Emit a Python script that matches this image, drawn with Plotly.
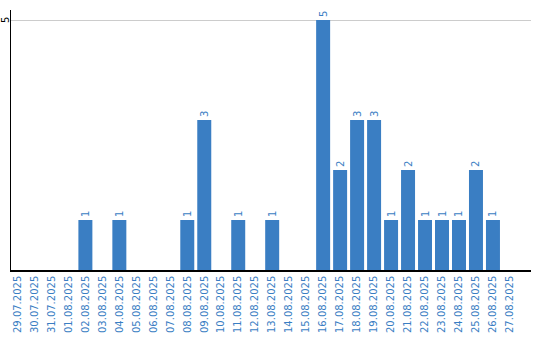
import plotly.graph_objects as go

dates = ["29.07.2025", "30.07.2025", "31.07.2025", "01.08.2025", "02.08.2025", "03.08.2025",
         "04.08.2025", "05.08.2025", "06.08.2025", "07.08.2025", "08.08.2025", "09.08.2025",
         "10.08.2025", "11.08.2025", "12.08.2025", "13.08.2025", "14.08.2025", "15.08.2025",
         "16.08.2025", "17.08.2025", "18.08.2025", "19.08.2025", "20.08.2025", "21.08.2025",
         "22.08.2025", "23.08.2025", "24.08.2025", "25.08.2025", "26.08.2025", "27.08.2025"]
counts = [0, 0, 0, 0, 1, 0, 1, 0, 0, 0, 1, 3, 0, 1, 0, 1, 0, 0,
          5, 2, 3, 3, 1, 2, 1, 1, 1, 2, 1, 0]
y_ticks = [5]

blue = "#3a7ec3"
labels = [str(v) if v > 0 else "" for v in counts]

fig = go.Figure(go.Bar(
    x=dates, y=counts, marker_color=blue, marker_line_width=0,
    text=labels, textposition="outside", textangle=-90,
    textfont=dict(family="DejaVu Sans", size=10, color=blue),
    cliponaxis=False,
))
for t in y_ticks:
    fig.add_annotation(xref="paper", x=0, y=t, yref="y", text=str(t), showarrow=False,
                       textangle=-90, xanchor="center", yanchor="middle", xshift=-6,
                       borderpad=0,
                       font=dict(family="DejaVu Sans", size=10, color="black"))
fig.update_layout(
    width=540, height=340,
    margin=dict(l=11, r=9, t=10, b=70),
    paper_bgcolor="white", plot_bgcolor="white",
    bargap=0.176, showlegend=False,
    font=dict(family="DejaVu Sans", size=10, color=blue),
    xaxis=dict(type="category", range=[-0.38, 30.24], tickangle=-90, showline=True,
               linecolor="black", linewidth=1.5, ticks="", showgrid=False, automargin=False,
               tickfont=dict(family="DejaVu Sans", size=10, color=blue)),
    yaxis=dict(range=[0, 5.2], tickvals=y_ticks, showticklabels=False,
               showline=True, linecolor="black", linewidth=1, showgrid=True,
               gridcolor="#cccccc", gridwidth=1, zeroline=False, ticks="",
               automargin=False),
)
fig.write_html("out.html")
